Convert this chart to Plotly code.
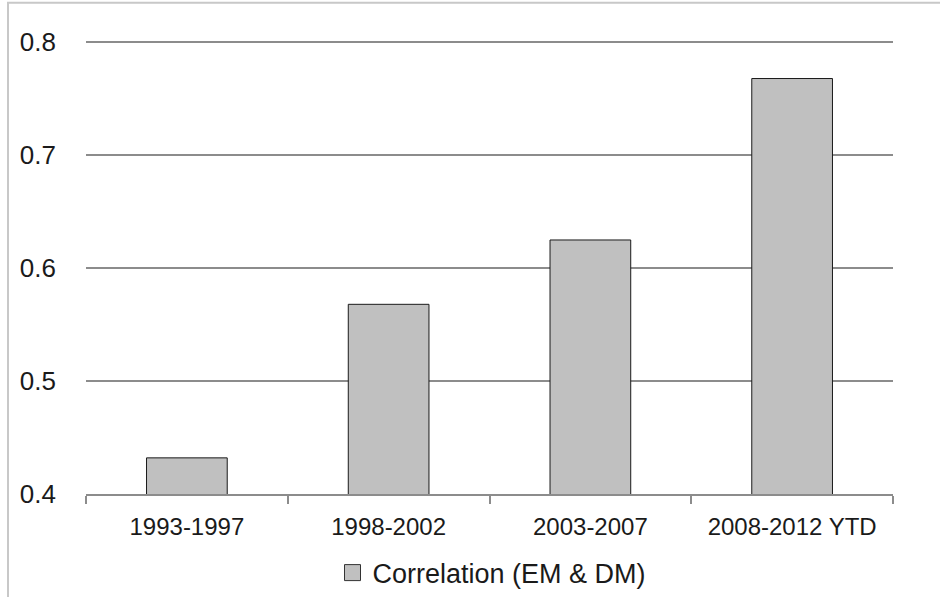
import plotly.graph_objects as go

categories = ["1993-1997", "1998-2002", "2003-2007", "2008-2012 YTD"]
correlation = [0.432, 0.568, 0.625, 0.768]
series_name = "Correlation (EM & DM)"
y_ticks = [0.4, 0.5, 0.6, 0.7, 0.8]
y_range = [0.4, 0.803]

W, H = 940, 597
# pixel positions of the plot frame (page coordinates)
axis_px, top_tick_px = 494.0, 42.7
px_per_unit = (axis_px - top_tick_px) / (y_ticks[-1] - y_ticks[0])
plot_top_px = top_tick_px - (y_range[1] - y_ticks[-1]) * px_per_unit
L, R = 86, 47
T = plot_top_px
B = H - axis_px
pw = W - L - R
ph = H - T - B

def px_x(p):
    return (p - L) / pw

def px_y(p):
    return 1 - (p - T) / ph

fig = go.Figure()
fig.add_trace(go.Bar(
    x=categories, y=correlation, name=series_name,
    marker=dict(color="#c0c0c0", line=dict(color="#1a1a1a", width=1)),
    showlegend=False,
))
# legend entry with a larger square swatch
fig.add_trace(go.Scatter(
    x=[None], y=[None], mode="markers", name=series_name,
    marker=dict(symbol="square", size=16, color="#c0c0c0", line=dict(color="#333333", width=1)),
    showlegend=True, hoverinfo="skip",
))

fig.update_layout(
    width=W, height=H,
    margin=dict(l=L, r=R, t=T, b=B, autoexpand=False),
    paper_bgcolor="white", plot_bgcolor="white",
    bargap=0.6,
    font=dict(family="Liberation Sans, Arial, sans-serif", color="#1a1a1a"),
    showlegend=True,
    legend=dict(orientation="h", x=px_x(492), xanchor="center", y=px_y(573), yanchor="middle",
                font=dict(size=27), itemwidth=30, bgcolor="rgba(0,0,0,0)"),
    xaxis=dict(
        showline=True, linecolor="#8c8c8c", linewidth=2,
        ticks="outside", tickson="boundaries", ticklen=8, tickcolor="#8c8c8c", tickwidth=2,
        tickfont=dict(size=24), showgrid=False, automargin=False, ticklabelstandoff=10,
    ),
    yaxis=dict(
        range=y_range, tickvals=y_ticks, ticktext=[f"{v:.1f}" for v in y_ticks],
        showgrid=True, gridcolor="#8c8c8c", gridwidth=2,
        zeroline=False, showline=False, ticks="",
        tickfont=dict(size=26), ticklabelstandoff=29, automargin=False,
    ),
    shapes=[
        dict(type="rect", xref="paper", yref="paper",
             x0=px_x(8), x1=px_x(960), y0=px_y(3), y1=px_y(620),
             line=dict(color="#c8c8c8", width=2), fillcolor="rgba(0,0,0,0)", layer="below"),
    ],
)

fig.write_html("out.html", config={"displayModeBar": False},
               post_script="document.body.style.margin='0';")
